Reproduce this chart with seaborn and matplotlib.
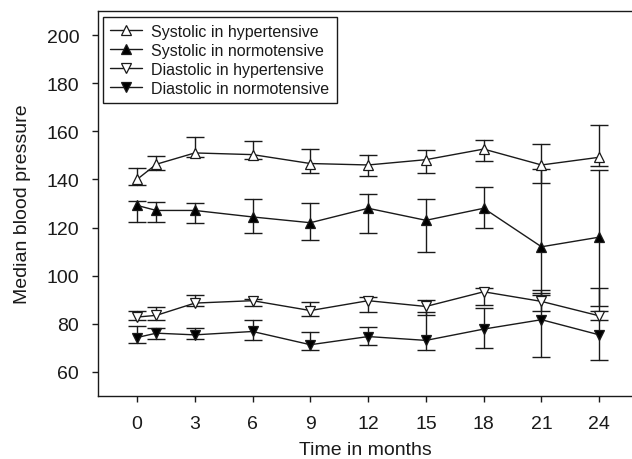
import matplotlib
matplotlib.use("Agg")
import matplotlib.pyplot as plt
import seaborn as sns
import pandas as pd

months = [0, 1, 3, 6, 9, 12, 15, 18, 21, 24]
x_ticks = [0, 3, 6, 9, 12, 15, 18, 21, 24]
y_ticks = [60, 80, 100, 120, 140, 160, 180, 200]

sys_hyper = [140.0, 146.3, 151.0, 150.3, 146.6, 146.0, 148.2, 152.6, 146.0, 149.2]
sys_hyper_lo = [137.5, 143.8, 149.5, 148.6, 142.8, 141.3, 142.8, 147.5, 138.6, 145.5]
sys_hyper_hi = [144.9, 149.6, 157.6, 156.0, 152.8, 150.1, 152.1, 156.3, 154.9, 162.6]

sys_norm = [129.2, 127.1, 127.1, 124.4, 122.0, 128.0, 123.0, 128.0, 112.0, 116.0]
sys_norm_lo = [122.2, 122.2, 121.7, 117.8, 115.0, 117.6, 110.0, 119.6, 92.0, 87.2]
sys_norm_hi = [131.0, 130.5, 130.0, 132.0, 130.4, 133.8, 131.8, 137.0, 144.4, 143.9]

dia_hyper = [82.8, 83.5, 88.6, 89.6, 85.5, 89.6, 87.2, 93.3, 89.3, 83.3]
dia_hyper_lo = [81.7, 81.7, 87.2, 87.2, 83.3, 84.7, 83.6, 87.9, 85.5, 81.5]
dia_hyper_hi = [85.4, 86.8, 92.1, 90.5, 88.9, 91.0, 89.7, 94.9, 94.2, 85.5]

dia_norm = [74.3, 76.1, 75.4, 76.8, 71.3, 74.7, 73.1, 77.8, 81.7, 75.4]
dia_norm_lo = [71.9, 73.6, 73.8, 73.3, 69.2, 71.3, 68.9, 69.9, 66.1, 65.0]
dia_norm_hi = [79.2, 78.3, 78.2, 81.5, 76.4, 78.6, 84.7, 86.5, 93.0, 94.9]

series = [
    ("Systolic in hypertensive", sys_hyper, sys_hyper_lo, sys_hyper_hi, "^", "white"),
    ("Systolic in normotensive", sys_norm, sys_norm_lo, sys_norm_hi, "^", "black"),
    ("Diastolic in hypertensive", dia_hyper, dia_hyper_lo, dia_hyper_hi, "v", "white"),
    ("Diastolic in normotensive", dia_norm, dia_norm_lo, dia_norm_hi, "v", "black"),
]

sns.set_style("ticks")
plt.rcParams["font.family"] = ["Liberation Sans", "DejaVu Sans"]

fig = plt.figure(figsize=(6.32, 4.60), dpi=100)
ax = fig.add_axes([0.155, 0.137, 0.845, 0.837])

ink = "#1a1a1a"
for name, mid, lo, hi, mk, fc in series:
    rows = []
    for m, a, b, c in zip(months, lo, mid, hi):
        rows += [{"month": m, "value": a}, {"month": m, "value": b}, {"month": m, "value": c}]
    df = pd.DataFrame(rows)
    sns.lineplot(data=df, x="month", y="value", estimator="median",
                 errorbar=("pi", 100), err_style="bars", ax=ax,
                 color=ink, linewidth=1.0, marker=mk, markersize=7.5,
                 markerfacecolor=fc, markeredgecolor=ink, markeredgewidth=0.9,
                 label=name, zorder=3,
                 err_kws={"capsize": 6.5, "elinewidth": 1.0, "capthick": 1.0, "zorder": 2})

ax.set_xlim(-2.03, 25.7)
ax.set_ylim(50, 210)
ax.set_xticks(x_ticks)
ax.set_yticks(y_ticks)
ax.tick_params(direction="out", length=4, width=1, colors=ink, labelsize=14, pad=9.5)
for s in ["left", "bottom", "top"]:
    ax.spines[s].set_color(ink)
    ax.spines[s].set_linewidth(1.0)
    ax.spines[s].set_visible(True)
ax.spines["right"].set_visible(False)
ax.set_xlabel("Time in months", fontsize=14, color=ink, labelpad=7)
ax.set_ylabel("Median blood pressure", fontsize=14, color=ink, labelpad=11)

leg = ax.legend(loc="upper left", bbox_to_anchor=(0.009, 0.985), fontsize=11.5,
                frameon=True, fancybox=False, edgecolor=ink, framealpha=1,
                handlelength=2.0, handletextpad=0.6, labelspacing=0.25,
                borderpad=0.45, borderaxespad=0)
leg.get_frame().set_linewidth(1.0)
for t in leg.get_texts():
    t.set_color(ink)

fig.savefig("out.png", dpi=100)
